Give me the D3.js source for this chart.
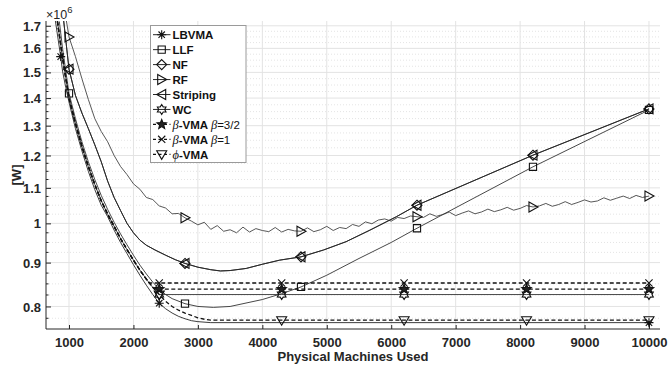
<!DOCTYPE html>
<html>
<head>
<meta charset="utf-8">
<script src="https://cdn.jsdelivr.net/npm/d3@7"></script>
<style>
body { margin: 0; background: #fff; }
text { font-family: Arial, "Liberation Sans", sans-serif; }
</style>
</head>
<body>
<script>
// power in 10^6 W vs physical machines used

var xTickValues = [1000, 2000, 3000, 4000, 5000, 6000, 7000, 8000, 9000, 10000];
var yTickValues = [0.8, 0.9, 1, 1.1, 1.2, 1.3, 1.4, 1.5, 1.6, 1.7];
var yTickLabels = ["0.8", "0.9", "1", "1.1", "1.2", "1.3", "1.4", "1.5", "1.6", "1.7"];

var lbvmaX = [780, 871, 900, 950, 1000, 1100, 1200, 1300, 1400, 1500, 1600, 1700, 1800, 1900, 2000, 2100, 2200, 2300, 2400, 2500, 2600, 2700, 2800, 2900, 3000, 3200, 10000];
var lbvmaY = [1.74, 1.565, 1.505, 1.44, 1.385, 1.29, 1.215, 1.15, 1.095, 1.05, 1.018, 0.982, 0.95, 0.922, 0.895, 0.87, 0.847, 0.826, 0.807, 0.795, 0.786, 0.779, 0.774, 0.77, 0.768, 0.766, 0.766];

var llfX = [850, 900, 1000, 1100, 1200, 1300, 1400, 1500, 1600, 1700, 1800, 1900, 2000, 2100, 2200, 2300, 2400, 2500, 2600, 2800, 3000, 3240, 3500, 4000, 4300, 4600, 5000, 5500, 6000, 6400, 8200, 10000];
var llfY = [1.72, 1.6, 1.418, 1.325, 1.245, 1.18, 1.125, 1.078, 1.038, 1.003, 0.972, 0.944, 0.918, 0.894, 0.873, 0.854, 0.838, 0.826, 0.817, 0.806, 0.8, 0.798, 0.8, 0.815, 0.828, 0.843, 0.87, 0.91, 0.95, 0.987, 1.164, 1.356];

var nfX = [900, 1000, 1100, 1200, 1300, 1400, 1500, 1600, 1700, 1800, 1900, 2000, 2100, 2200, 2335, 2500, 2650, 2800, 3000, 3200, 3350, 3500, 3750, 4000, 4270, 4600, 4950, 5300, 5670, 6080, 6400, 8200, 10000];
var nfY = [1.77, 1.513, 1.41, 1.345, 1.29, 1.235, 1.18, 1.12, 1.072, 1.035, 1.0, 0.975, 0.956, 0.943, 0.931, 0.918, 0.907, 0.898, 0.889, 0.883, 0.88, 0.881, 0.886, 0.896, 0.906, 0.914, 0.931, 0.952, 0.982, 1.018, 1.05, 1.201, 1.36];

var stripingX = [900, 1000, 1100, 1200, 1300, 1400, 1500, 1600, 1700, 1800, 1900, 2000, 2100, 2200, 2335, 2500, 2650, 2800, 3000, 3200, 3350, 3500, 3750, 4000, 4270, 4600, 4950, 5300, 5670, 6080, 6400, 8200, 10000];
var stripingY = [1.77, 1.513, 1.41, 1.345, 1.29, 1.235, 1.18, 1.12, 1.072, 1.035, 1.0, 0.975, 0.956, 0.943, 0.931, 0.918, 0.907, 0.898, 0.889, 0.883, 0.88, 0.881, 0.886, 0.896, 0.906, 0.914, 0.931, 0.952, 0.982, 1.018, 1.05, 1.201, 1.36];

var rfX = [950, 1000, 1100, 1200, 1300, 1400, 1500, 1600, 1700, 1800, 1900, 2000, 2100, 2200, 2300, 2400, 2500, 2600, 2700, 2800, 2900,
  3000, 3100, 3200, 3300, 3400, 3500, 3600, 3700, 3800, 3900, 4000, 4100, 4200, 4300, 4400, 4500, 4600, 4700, 4800, 4900,
  5000, 5100, 5200, 5300, 5400, 5500, 5600, 5700, 5800, 5900, 6000, 6100, 6200, 6300, 6400, 6500, 6600, 6700, 6800, 6900,
  7000, 7100, 7200, 7300, 7400, 7500, 7600, 7700, 7800, 7900, 8000, 8100, 8200, 8300, 8400, 8500, 8600, 8700, 8800, 8900,
  9000, 9100, 9200, 9300, 9400, 9500, 9600, 9700, 9800, 9900, 10000];
var rfY = [1.74, 1.65, 1.565, 1.475, 1.395, 1.325, 1.28, 1.245, 1.2, 1.165, 1.14, 1.112, 1.096, 1.072, 1.066, 1.048, 1.042, 1.026, 1.027, 1.015, 1.006,
  0.996, 1.003, 0.984, 0.994, 0.979, 0.983, 0.975, 0.99, 0.977, 0.986, 0.981, 0.978, 0.989, 0.977, 0.984, 0.98, 0.979, 0.988, 0.978, 0.983,
  0.992, 0.981, 0.989, 0.986, 0.997, 0.992, 1.004, 0.999, 1.009, 1.012, 1.006, 1.016, 1.013, 1.02, 1.018, 1.016, 1.026, 1.019, 1.024, 1.031,
  1.021, 1.028, 1.034, 1.026, 1.031, 1.039, 1.032, 1.037, 1.044, 1.036, 1.041, 1.049, 1.045, 1.048, 1.055, 1.047, 1.052, 1.06, 1.052, 1.058,
  1.065, 1.059, 1.062, 1.071, 1.064, 1.07, 1.076, 1.069, 1.078, 1.072, 1.076];

var wcX = [820, 900, 1000, 1100, 1200, 1300, 1400, 1500, 1600, 1700, 1800, 1900, 2000, 2100, 2200, 2300, 2400, 4300, 6200, 8100, 10000];
var wcY = [1.72, 1.56, 1.40, 1.308, 1.23, 1.165, 1.11, 1.063, 1.025, 0.992, 0.96, 0.932, 0.906, 0.882, 0.861, 0.842, 0.826, 0.826, 0.826, 0.826, 0.826];

var beta32X = [820, 900, 1000, 1100, 1200, 1300, 1400, 1500, 1600, 1700, 1800, 1900, 2000, 2100, 2200, 2300, 2330, 2400, 4300, 6200, 8100, 10000];
var beta32Y = [1.72, 1.56, 1.40, 1.308, 1.23, 1.165, 1.11, 1.063, 1.025, 0.992, 0.96, 0.932, 0.906, 0.882, 0.861, 0.842, 0.838, 0.838, 0.838, 0.838, 0.838, 0.838];

var beta1X = [820, 900, 1000, 1100, 1200, 1300, 1400, 1500, 1600, 1700, 1800, 1900, 2000, 2100, 2200, 2250, 2400, 4300, 6200, 8100, 10000];
var beta1Y = [1.72, 1.56, 1.40, 1.308, 1.23, 1.165, 1.11, 1.063, 1.025, 0.992, 0.96, 0.932, 0.906, 0.882, 0.861, 0.852, 0.852, 0.852, 0.852, 0.852, 0.852];

var phiX = [820, 900, 1000, 1100, 1200, 1300, 1400, 1500, 1600, 1700, 1800, 1900, 2000, 2100, 2200, 2300, 2400, 2500, 2600, 2700, 2800, 2900, 3000, 3100, 3200, 4300, 6200, 8100, 10000];
var phiY = [1.72, 1.56, 1.40, 1.308, 1.23, 1.165, 1.11, 1.063, 1.025, 0.992, 0.96, 0.932, 0.906, 0.882, 0.861, 0.842, 0.826, 0.811, 0.80, 0.792, 0.786, 0.781, 0.776, 0.773, 0.771, 0.771, 0.771, 0.771, 0.771];

var lbvmaMarks = [871, 2400, 10000];
var sixMarks = [1000, 2800, 4600, 6400, 8200, 10000];
var vmaMarks = [2400, 4300, 6200, 8100, 10000];

var series = [
	{name: "RF", xs: rfX, ys: rfY, mark: "triR", marks: sixMarks, dash: false, color: "#444"},
	{name: "NF", xs: nfX, ys: nfY, mark: "diamond", marks: sixMarks, dash: false, color: "#262626"},
	{name: "Striping", xs: stripingX, ys: stripingY, mark: "triL", marks: sixMarks, dash: false, color: "#262626"},
	{name: "LLF", xs: llfX, ys: llfY, mark: "square", marks: sixMarks, dash: false, color: "#333"},
	{name: "LBVMA", xs: lbvmaX, ys: lbvmaY, mark: "asterisk", marks: lbvmaMarks, dash: false, color: "#262626"},
	{name: "WC", xs: wcX, ys: wcY, mark: "hexagram", marks: vmaMarks, dash: false, color: "#333"},
	{name: "b32", xs: beta32X, ys: beta32Y, mark: "pentagram", marks: vmaMarks, dash: true, color: "#111"},
	{name: "b1", xs: beta1X, ys: beta1Y, mark: "times", marks: vmaMarks, dash: true, color: "#111"},
	{name: "phi", xs: phiX, ys: phiY, mark: "triD", marks: vmaMarks, dash: true, color: "#111"}
];

// legend order as in figure
var legendItems = [
	{mark: "asterisk", dash: false, parts: [["LBVMA", "b"]]},
	{mark: "square", dash: false, parts: [["LLF", "b"]]},
	{mark: "diamond", dash: false, parts: [["NF", "b"]]},
	{mark: "triR", dash: false, parts: [["RF", "b"]]},
	{mark: "triL", dash: false, parts: [["Striping", "b"]]},
	{mark: "hexagram", dash: false, parts: [["WC", "b"]]},
	{mark: "pentagram", dash: true, parts: [["\u03b2", "i"], ["-VMA ", "b"], ["\u03b2", "i"], ["=3/2", "n"]]},
	{mark: "times", dash: true, parts: [["\u03b2", "i"], ["-VMA ", "b"], ["\u03b2", "i"], ["=1", "n"]]},
	{mark: "triD", dash: true, parts: [["\u03d5", "i"], ["-VMA", "b"]]}
];

var W = 670, H = 369;
var pL = 46, pR = 660, pT = 21, pB = 329;

var svg = d3.select("body").append("svg")
	.attr("width", W)
	.attr("height", H)
	.style("background", "#fff");

var x = d3.scaleLinear().domain([643, 10171]).range([pL, pR]);
var y = d3.scaleLog().domain([0.753, 1.722]).range([pB, pT]);

// minor grid (every 0.025)
var minor = d3.range(0.775, 1.72, 0.025).filter(function(v){
	return Math.abs(Math.round(v * 10) - v * 10) > 0.01;
});

svg.append("g").selectAll("line").data(minor).enter().append("line")
	.attr("x1", pL).attr("x2", pR)
	.attr("y1", function(d){ return y(d); })
	.attr("y2", function(d){ return y(d); })
	.attr("stroke", "#d8d8d8")
	.attr("stroke-width", 0.7)
	.attr("stroke-dasharray", "1,2");

// major grid
svg.append("g").selectAll("line").data(yTickValues).enter().append("line")
	.attr("x1", pL).attr("x2", pR)
	.attr("y1", function(d){ return y(d); })
	.attr("y2", function(d){ return y(d); })
	.attr("stroke", "#e3e3e3")
	.attr("stroke-width", 1);

svg.append("g").selectAll("line").data(xTickValues).enter().append("line")
	.attr("y1", pT).attr("y2", pB)
	.attr("x1", function(d){ return x(d); })
	.attr("x2", function(d){ return x(d); })
	.attr("stroke", "#e3e3e3")
	.attr("stroke-width", 1);

// axes
var xAxis = d3.axisBottom(x).tickValues(xTickValues).tickSize(-4).tickFormat(d3.format("d"));
var gx = svg.append("g").attr("transform", "translate(0," + pB + ")").call(xAxis);
gx.select(".domain").attr("stroke", "#262626").attr("d", "M" + pL + ",0H" + pR);
gx.selectAll(".tick line").attr("stroke", "#262626");
gx.selectAll(".tick text")
	.attr("y", 17.5)
	.attr("dy", 0)
	.style("font-size", "13px")
	.style("font-weight", "bold")
	.attr("fill", "#262626");

var yAxis = d3.axisLeft(y).tickValues(yTickValues).tickSize(-5)
	.tickFormat(function(d, i){ return yTickLabels[i]; });
var gy = svg.append("g").attr("transform", "translate(" + pL + ",0)").call(yAxis);
gy.select(".domain").attr("stroke", "#262626").attr("d", "M0," + pT + "V" + pB);
gy.selectAll(".tick line").attr("stroke", "#262626");
gy.selectAll(".tick text")
	.attr("x", -5)
	.attr("dy", "0.35em")
	.style("font-size", "13px")
	.style("font-weight", "bold")
	.attr("fill", "#262626");

// minor y ticks
svg.append("g").selectAll("line").data(minor).enter().append("line")
	.attr("x1", pL).attr("x2", pL + 2.5)
	.attr("y1", function(d){ return y(d); })
	.attr("y2", function(d){ return y(d); })
	.attr("stroke", "#262626");

// labels
svg.append("text")
	.attr("x", (pL + pR) / 2)
	.attr("y", 361)
	.attr("text-anchor", "middle")
	.style("font-size", "13px")
	.style("font-weight", "bold")
	.attr("fill", "#262626")
	.text("Physical Machines Used");

svg.append("text")
	.attr("transform", "translate(21," + ((pT + pB) / 2) + ") rotate(-90)")
	.attr("text-anchor", "middle")
	.style("font-size", "13px")
	.style("font-weight", "bold")
	.attr("fill", "#262626")
	.text("[W]");

var expo = svg.append("text")
	.attr("x", 46)
	.attr("y", 18.5)
	.style("font-size", "12.5px")
	.attr("fill", "#262626");
expo.append("tspan").text("\u00d710");
expo.append("tspan").attr("dy", -6).style("font-size", "9.5px").text("6");

// marker shapes
function star(n, ro, ri) {
	var p = [];
	for (var k = 0; k < 2 * n; k++) {
		var r = (k % 2 === 0) ? ro : ri;
		var a = -Math.PI / 2 + k * Math.PI / n;
		p.push([r * Math.cos(a), r * Math.sin(a)]);
	}
	return "M" + p.map(function(q){ return q[0].toFixed(2) + "," + q[1].toFixed(2); }).join("L") + "Z";
}

var shapes = {
	asterisk: "M-4.5,0H4.5M0,-4.5V4.5M-3.2,-3.2L3.2,3.2M-3.2,3.2L3.2,-3.2",
	square: "M-3.6,-3.6H3.6V3.6H-3.6Z",
	diamond: "M0,-5L5,0L0,5L-5,0Z",
	triR: "M-4,-5L5,0L-4,5Z",
	triL: "M4,-5L-5,0L4,5Z",
	triD: "M-5,-3.5L5,-3.5L0,5Z",
	times: "M-3.6,-3.6L3.6,3.6M-3.6,3.6L3.6,-3.6",
	pentagram: star(5, 5, 2.2),
	hexagram: star(6, 5, 3)
};

function drawMark(g, type, px, py) {
	g.append("path")
		.attr("d", shapes[type])
		.attr("transform", "translate(" + px + "," + py + ")")
		.attr("fill", type === "pentagram" ? "#222" : "none")
		.attr("stroke", "#111")
		.attr("stroke-width", 1.1);
}

// plot lines
svg.append("clipPath").attr("id", "plotClip")
	.append("rect")
	.attr("x", pL).attr("y", pT)
	.attr("width", pR - pL).attr("height", pB - pT);

var line = d3.line()
	.x(function(d){ return x(d[0]); })
	.y(function(d){ return y(d[1]); });

var plot = svg.append("g").attr("clip-path", "url(#plotClip)");

series.forEach(function(s){
	var pts = s.xs.map(function(v, i){ return [v, s.ys[i]]; });
	plot.append("path")
		.attr("d", line(pts))
		.attr("fill", "none")
		.attr("stroke", s.color)
		.attr("stroke-width", s.dash ? 1.3 : 0.9)
		.attr("stroke-dasharray", s.dash ? "4,2.5" : null);
});

var markG = svg.append("g");
series.forEach(function(s){
	s.marks.forEach(function(mx){
		var i = s.xs.indexOf(mx);
		if (i < 0) return;
		drawMark(markG, s.mark, x(mx), y(s.ys[i]));
	});
});

// legend
var lg = svg.append("g");
lg.append("rect")
	.attr("x", 150.5).attr("y", 25.5)
	.attr("width", 95.5).attr("height", 137)
	.attr("fill", "#fff")
	.attr("stroke", "#9a9a9a")
	.attr("stroke-width", 1);

legendItems.forEach(function(it, i){
	var cy = 34.7 + i * 14.95;
	lg.append("line")
		.attr("x1", 153).attr("x2", 170.5)
		.attr("y1", cy).attr("y2", cy)
		.attr("stroke", "#111")
		.attr("stroke-width", it.dash ? 1.3 : 0.9)
		.attr("stroke-dasharray", it.dash ? "3,2.5" : null);
	drawMark(lg, it.mark, 161.7, cy);
	var t = lg.append("text")
		.attr("x", 172.5)
		.attr("y", cy + 4.3)
		.style("font-size", "11.5px")
		.attr("fill", "#111");
	it.parts.forEach(function(p){
		var sp = t.append("tspan").text(p[0]);
		if (p[1] === "b") sp.style("font-weight", "bold");
		if (p[1] === "i") sp.style("font-style", "italic").style("font-family", "'Liberation Serif', serif").style("font-size", "12.5px");
	});
});
</script>
</body>
</html>
